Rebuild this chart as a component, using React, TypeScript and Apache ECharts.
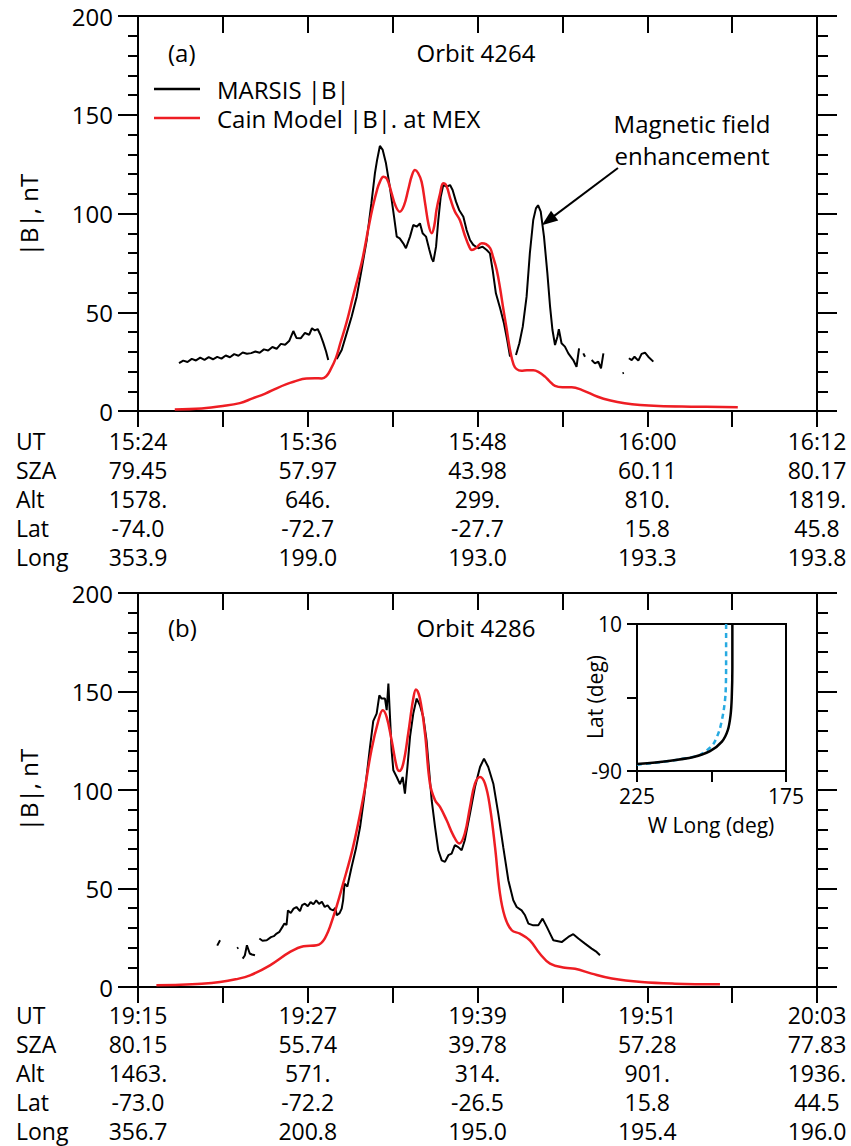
import React, { useEffect, useRef } from 'react';
import * as echarts from 'echarts';

const FONT = "'Open Sans', 'Noto Sans', sans-serif";

// ---- table rows below each panel ----
const rowHeads = ['UT', 'SZA', 'Alt', 'Lat', 'Long'];
const utA = ['15:24', '15:36', '15:48', '16:00', '16:12'];
const szaA = ['79.45', '57.97', '43.98', '60.11', '80.17'];
const altA = ['1578.', '646.', '299.', '810.', '1819.'];
const latA = ['-74.0', '-72.7', '-27.7', '15.8', '45.8'];
const lonA = ['353.9', '199.0', '193.0', '193.3', '193.8'];

const utB = ['19:15', '19:27', '19:39', '19:51', '20:03'];
const szaB = ['80.15', '55.74', '39.78', '57.28', '77.83'];
const altB = ['1463.', '571.', '314.', '901.', '1936.'];
const latB = ['-73.0', '-72.2', '-26.5', '15.8', '44.5'];
const lonB = ['356.7', '200.8', '195.0', '195.4', '196.0'];

// ---- panel (a), orbit 4264: [minutes after 15:24, |B| nT], null = data gap ----
const marsisA: ([number, number] | null)[] = [
  [2.9, 24.2], [3.2, 25.5], [3.5, 24.8], [3.8, 26.4], [4.1, 25.6], [4.4, 27.0], [4.7, 25.9], [5.0, 27.3],
  [5.3, 26.2], [5.6, 27.4], [5.9, 26.5], [6.2, 28.1], [6.5, 27.2], [6.8, 28.8], [7.1, 28.0], [7.4, 29.6],
  [7.7, 29.0], [8.0, 29.3], [8.3, 30.1], [8.6, 29.5], [8.9, 31.2], [9.2, 30.6], [9.5, 32.4], [9.8, 31.5],
  [10.1, 34.0], [10.4, 33.5], [10.7, 35.6], [10.98, 40.5], [11.2, 37.0], [11.5, 36.8], [11.8, 39.5],
  [12.1, 38.6], [12.3, 41.9], [12.5, 40.8], [12.7, 41.5], [12.9, 38.5], [13.1, 34.5], [13.3, 30.0], [13.45, 25.8],
  null,
  [14.05, 26.3], [14.4, 30.9], [14.75, 39.3], [15.1, 47.7], [15.46, 57.9], [15.8, 71.4], [16.17, 86.6],
  [16.5, 105.2], [16.75, 120.4], [16.9, 127.0], [17.1, 134.2], [17.3, 132.2], [17.53, 125.4], [17.8, 113.6],
  [18.1, 98.4], [18.29, 88.3], [18.5, 87.4], [18.75, 84.9], [18.94, 82.4], [19.23, 88.3], [19.46, 94.2],
  [19.7, 93.3], [19.93, 95.0], [20.12, 90.0], [20.36, 88.3], [20.6, 81.5], [20.76, 77.3], [20.88, 75.6],
  [21.07, 83.2], [21.23, 96.7], [21.4, 108.5], [21.58, 114.4], [21.82, 113.6], [22.06, 114.4], [22.24, 111.9],
  [22.48, 106.0], [22.7, 101.8], [23.0, 98.4], [23.23, 91.6], [23.47, 86.6], [23.7, 84.1], [24.06, 82.4],
  [24.36, 83.2], [24.65, 81.5], [24.88, 79.8], [25.07, 71.4], [25.3, 59.6], [25.6, 52.0], [25.87, 44.4],
  [26.1, 35.9], [26.3, 27.5],
  null,
  [26.72, 28.4], [26.96, 34.3], [27.2, 42.7], [27.47, 57.9], [27.7, 79.8], [27.94, 96.7], [28.13, 102.6],
  [28.28, 104.2], [28.47, 100.9], [28.7, 88.3], [28.94, 69.7], [29.13, 52.8], [29.3, 41.0], [29.48, 33.4],
  [29.65, 37.6], [29.75, 41.4], [29.94, 34.3], [30.18, 32.6], [30.42, 29.2], [30.77, 25.8], [31.0, 22.4], [31.18, 31.7],
  null,
  [31.48, 29.2], [31.6, 27.5],
  null,
  [32.07, 25.8], [32.3, 24.1], [32.54, 25.0], [32.73, 21.6], [32.9, 29.2],
  null,
  [34.25, 19.1], [34.35, 19.3],
  null,
  [34.7, 26.7], [34.9, 25.8], [35.1, 27.5], [35.37, 25.5], [35.6, 28.9], [35.84, 29.5], [36.07, 27.5], [36.43, 25.0],
];

const cainA: [number, number][] = [
  [2.6, 0.8], [4.5, 1.3], [6.0, 2.5], [7.2, 4.0], [8.1, 6.4], [9.0, 8.8], [9.8, 11.5], [10.5, 13.6],
  [11.0, 14.8], [11.9, 16.5], [12.5, 16.6], [13.0, 16.5], [13.3, 17.5], [13.6, 20.8], [14.0, 27.0],
  [14.3, 34.3], [14.75, 45.0], [15.2, 57.9], [15.6, 69.0], [15.9, 78.0], [16.3, 93.0], [16.6, 103.4],
  [16.9, 112.0], [17.1, 116.0], [17.35, 118.6], [17.6, 117.5], [17.9, 111.0], [18.2, 104.0], [18.5, 100.9],
  [18.8, 104.0], [19.1, 112.0], [19.35, 119.0], [19.58, 122.0], [19.8, 120.5], [20.05, 116.0], [20.3, 105.0],
  [20.55, 94.0], [20.76, 90.0], [20.95, 94.0], [21.1, 101.8], [21.35, 110.0], [21.58, 115.3], [21.8, 114.0],
  [22.1, 107.0], [22.4, 101.0], [22.75, 96.7], [23.1, 89.0], [23.4, 83.5], [23.6, 81.5], [23.9, 82.5],
  [24.3, 85.0], [24.6, 84.5], [24.9, 82.4], [25.1, 78.0], [25.36, 71.4], [25.6, 62.0], [25.8, 52.8],
  [26.05, 42.0], [26.3, 30.9], [26.55, 23.5], [26.77, 21.2], [27.1, 20.4], [27.5, 20.6], [27.94, 20.6],
  [28.3, 19.8], [28.77, 17.4], [29.1, 15.0], [29.48, 12.7], [30.0, 12.0], [30.66, 12.0], [31.4, 10.6],
  [32.5, 7.2], [33.4, 5.3], [34.4, 3.9], [35.5, 3.0], [36.8, 2.5], [39.1, 2.2], [42.4, 1.9],
];

// ---- panel (b), orbit 4286: [minutes after 19:15, |B| nT] ----
const marsisB: ([number, number] | null)[] = [
  [5.6, 21.0], [5.8, 23.7],
  null,
  [7.0, 19.6], [7.1, 20.0],
  null,
  [7.4, 14.4], [7.55, 16.0], [7.7, 21.2], [7.9, 17.0], [8.05, 16.5], [8.27, 16.1],
  null,
  [8.58, 24.6], [8.8, 23.5], [9.1, 23.7], [9.4, 25.3], [9.6, 25.8], [9.8, 27.1], [10.0, 28.0], [10.2, 30.4],
  [10.35, 32.2], [10.5, 31.5], [10.6, 38.9], [10.8, 37.6], [11.0, 39.8], [11.2, 40.6], [11.45, 38.5],
  [11.6, 41.5], [11.8, 42.3], [12.0, 41.0], [12.2, 43.1], [12.4, 42.0], [12.6, 44.0], [12.8, 42.2],
  [13.0, 43.3], [13.2, 40.6], [13.4, 41.5], [13.6, 39.5], [13.8, 38.9], [13.95, 40.2], [14.05, 36.4],
  [14.25, 37.5], [14.4, 39.8], [14.5, 44.0], [14.6, 52.5], [14.8, 51.0], [15.1, 60.9], [15.4, 70.0],
  [15.7, 81.2], [16.0, 97.0], [16.4, 121.8], [16.63, 135.0], [16.87, 138.8], [17.06, 148.0], [17.22, 146.4],
  [17.46, 146.4], [17.58, 140.5], [17.7, 154.0], [17.93, 120.0], [18.05, 110.0], [18.29, 106.6],
  [18.52, 103.0], [18.71, 106.6], [18.87, 98.2], [19.05, 112.0], [19.23, 127.0], [19.46, 138.8],
  [19.7, 146.4], [19.93, 143.0], [20.17, 137.0], [20.4, 125.0], [20.76, 94.8], [21.0, 81.2], [21.23, 69.4],
  [21.47, 64.3], [21.7, 63.5], [21.94, 66.9], [22.17, 67.7], [22.4, 72.0], [22.64, 71.0], [22.88, 69.4],
  [23.1, 74.5], [23.47, 88.0], [23.82, 101.5], [24.18, 111.7], [24.46, 115.9], [24.76, 111.7], [25.12, 103.2],
  [25.47, 88.0], [25.82, 71.0], [26.18, 54.2], [26.53, 44.0], [26.77, 40.6], [27.12, 38.9], [27.36, 36.4],
  [27.6, 32.2], [27.94, 31.3], [28.3, 31.3], [28.6, 34.7], [28.9, 30.5], [29.13, 27.1], [29.36, 23.7],
  [29.95, 22.8], [30.42, 25.4], [30.77, 26.8], [31.13, 24.6], [31.6, 22.0], [32.07, 19.5], [32.42, 17.8],
  [32.66, 16.1],
];

const cainB: [number, number][] = [
  [1.3, 0.9], [3.0, 1.1], [4.5, 1.6], [5.8, 2.5], [6.9, 3.9], [7.92, 5.9], [9.33, 11.0], [10.75, 17.8],
  [11.7, 20.7], [12.63, 21.2], [13.2, 24.6], [13.8, 35.5], [14.5, 52.5], [15.2, 71.0], [15.93, 96.4],
  [16.5, 120.2], [17.0, 135.4], [17.3, 140.5], [17.58, 137.0], [17.93, 125.2], [18.29, 111.7], [18.47, 109.6],
  [18.75, 113.4], [19.1, 128.6], [19.46, 146.4], [19.65, 151.0], [19.93, 146.4], [20.29, 128.6], [20.64, 103.2],
  [21.0, 94.8], [21.35, 91.4], [21.82, 84.6], [22.29, 77.0], [22.71, 72.8], [23.1, 77.9], [23.47, 91.4],
  [23.82, 103.2], [24.18, 106.6], [24.53, 103.2], [24.88, 91.4], [25.24, 71.0], [25.59, 47.4], [25.94, 35.5],
  [26.42, 28.8], [27.0, 27.1], [27.7, 23.7], [28.4, 17.0], [29.13, 11.9], [30.18, 9.8], [30.9, 9.3],
  [32.07, 6.8], [33.5, 4.3], [35.6, 2.5], [37.96, 1.7], [41.14, 1.4],
];

// ---- inset: [W longitude deg, latitude deg] ----
const insetBlack: [number, number][] = [
  [225, -85.3], [215, -83.3], [206, -80.5], [200.5, -76.5], [196.5, -70], [194.5, -62], [193.6, -52],
  [193.2, -40], [193, -20], [193, 10],
];
const insetCyan: [number, number][] = [
  [225, -85.8], [217.2, -84], [210.5, -82], [203.8, -79], [199.5, -72], [197.3, -62], [196, -50],
  [195.3, -38], [195.1, -20], [195.1, 10],
];

// annotation arrow (data coords of panel a)
const arrowFrom: [number, number] = [33.93, 123];
const arrowTo: [number, number] = [29.0, 96.5];

const BLACK = '#000';
const RED = '#ee1d23';
const CYAN = '#27aae1';

const gap = (arr: ([number, number] | null)[]) => arr.map((p) => (p === null ? ['-', '-'] : p));

const lineStyle = { color: BLACK, width: 2 };
const axisLine = { show: true, onZero: false, lineStyle };

function tableFormatter(cols: string[][]) {
  return (v: number) => {
    if (Math.abs(v % 12) > 1e-6) return '';
    const i = Math.round(v / 12);
    return cols.map((c) => c[i]).join('\n');
  };
}

function xAxes(gridIndex: number, cols: string[][], margin: number) {
  return [
    {
      type: 'value', gridIndex, position: 'bottom', min: 0, max: 48, interval: 6,
      axisLine, axisTick: { show: true, inside: false, length: 16, lineStyle },
      axisLabel: {
        show: true, margin, fontSize: 23, lineHeight: 29, fontFamily: FONT, color: BLACK,
        formatter: tableFormatter(cols), hideOverlap: false,
      },
      splitLine: { show: false },
    },
    {
      type: 'value', gridIndex, position: 'top', min: 0, max: 48, interval: 6,
      axisLine, axisTick: { show: true, inside: true, length: 17, lineStyle },
      axisLabel: { show: false }, splitLine: { show: false },
    },
  ];
}

function yAxes(gridIndex: number) {
  return [
    {
      type: 'value', gridIndex, position: 'left', min: 0, max: 200, interval: 50,
      axisLine, axisTick: { show: true, inside: false, length: 20, lineStyle },
      minorTick: { show: true, splitNumber: 5, length: 10, lineStyle },
      axisLabel: { show: true, margin: 25, fontSize: 24, fontFamily: FONT, color: BLACK },
      splitLine: { show: false }, minorSplitLine: { show: false },
    },
    {
      type: 'value', gridIndex, position: 'right', min: 0, max: 200, interval: 50,
      axisLine, axisTick: { show: true, inside: false, length: 20, lineStyle },
      minorTick: { show: true, splitNumber: 5, length: 11, lineStyle },
      axisLabel: { show: false },
      splitLine: { show: false }, minorSplitLine: { show: false },
    },
  ];
}

const txt = (text: string, x: number, y: number, size: number, align = 'left', vAlign = 'middle', extra: any = {}) => ({
  type: 'text', x, y, z: 100, ...extra,
  style: {
    text, fontSize: size, fontFamily: FONT, fill: BLACK,
    align, verticalAlign: vAlign, textAlign: align, textVerticalAlign: vAlign,
    ...(extra.lineHeight ? { lineHeight: extra.lineHeight } : {}),
  },
});

function buildOption() {
  return {
    animation: false,
    backgroundColor: '#fff',
    grid: [
      { left: 138, top: 16, width: 679, height: 395 },
      { left: 138, top: 593, width: 679, height: 394 },
      { left: 637, top: 624, width: 149, height: 147, show: true, borderColor: BLACK, borderWidth: 2, backgroundColor: 'transparent' },
    ],
    xAxis: [
      ...xAxes(0, [utA, szaA, altA, latA, lonA], 15),
      ...xAxes(1, [utB, szaB, altB, latB, lonB], 13),
      {
        type: 'value', gridIndex: 2, min: 175, max: 225, interval: 25, inverse: true,
        axisLine, axisTick: { show: true, inside: false, length: 11, lineStyle },
        axisLabel: {
          show: true, margin: 13, fontSize: 21, lineHeight: 24, fontFamily: FONT, color: BLACK,
          formatter: (v: number) => (v === 200 ? '' : String(v)),
        },
        splitLine: { show: false },
      },
    ],
    yAxis: [
      ...yAxes(0),
      ...yAxes(1),
      {
        type: 'value', gridIndex: 2, min: -90, max: 10, interval: 50,
        axisLine, axisTick: { show: true, inside: false, length: 10, lineStyle },
        axisLabel: {
          show: true, margin: 15, fontSize: 21, fontFamily: FONT, color: BLACK,
          formatter: (v: number) => (v === -40 ? '' : String(v)),
        },
        splitLine: { show: false },
      },
    ],
    legend: {
      data: ['MARSIS |B|', 'Cain Model |B|. at MEX'],
      orient: 'vertical', left: 154, top: 77, padding: 0,
      icon: 'rect', itemWidth: 46, itemHeight: 2.4, itemGap: 5, selectedMode: false,
      formatter: (n: string) => '{s| }' + n,
      textStyle: { fontSize: 24, lineHeight: 24, fontFamily: FONT, color: BLACK, rich: { s: { width: 12 } } },
    },
    series: [
      {
        name: 'MARSIS |B|', type: 'line', xAxisIndex: 0, yAxisIndex: 0, data: gap(marsisA),
        symbol: 'none', connectNulls: false, lineStyle: { color: BLACK, width: 2 }, itemStyle: { color: BLACK },
        markLine: {
          silent: true, symbol: ['none', 'triangle'], symbolSize: [12, 16],
          lineStyle: { color: BLACK, width: 2, type: 'solid' }, label: { show: false },
          data: [[{ coord: arrowFrom }, { coord: arrowTo }]],
        },
      },
      {
        name: 'Cain Model |B|. at MEX', type: 'line', xAxisIndex: 0, yAxisIndex: 0, data: cainA,
        symbol: 'none', smooth: 0.4, lineStyle: { color: RED, width: 2.5 }, itemStyle: { color: RED },
      },
      {
        name: 'MARSIS |B| 4286', type: 'line', xAxisIndex: 2, yAxisIndex: 2, data: gap(marsisB),
        symbol: 'none', connectNulls: false, lineStyle: { color: BLACK, width: 2 }, itemStyle: { color: BLACK },
      },
      {
        name: 'Cain Model 4286', type: 'line', xAxisIndex: 2, yAxisIndex: 2, data: cainB,
        symbol: 'none', smooth: 0.4, lineStyle: { color: RED, width: 2.5 }, itemStyle: { color: RED },
      },
      {
        name: 'Inset cyan', type: 'line', xAxisIndex: 4, yAxisIndex: 4, data: insetCyan,
        symbol: 'none', smooth: 0.25, lineStyle: { color: CYAN, width: 2.5, type: [5, 4] }, itemStyle: { color: CYAN },
      },
      {
        name: 'Inset black', type: 'line', xAxisIndex: 4, yAxisIndex: 4, data: insetBlack,
        symbol: 'none', smooth: 0.25, lineStyle: { color: BLACK, width: 2.5 }, itemStyle: { color: BLACK },
      },
    ],
    graphic: [
      txt('(a)', 168, 52, 24),
      txt('Orbit 4264', 476, 52, 24, 'center'),
      txt('Magnetic field\nenhancement', 692, 107, 24, 'center', 'top', { lineHeight: 32 }),
      txt('|B|, nT', 28, 215, 24, 'center', 'middle', { rotation: Math.PI / 2 }),
      txt(rowHeads.join('\n'), 16, 426, 23, 'left', 'top', { lineHeight: 29 }),
      txt('(b)', 168, 627, 24),
      txt('Orbit 4286', 476, 627, 24, 'center'),
      txt('|B|, nT', 28, 790, 24, 'center', 'middle', { rotation: Math.PI / 2 }),
      txt(rowHeads.join('\n'), 16, 1000, 23, 'left', 'top', { lineHeight: 29 }),
      txt('Lat (deg)', 595, 697, 21, 'center', 'middle', { rotation: Math.PI / 2 }),
      txt('W Long (deg)', 711, 825, 21, 'center', 'middle'),
    ],
  };
}

export default function App() {
  const ref = useRef<HTMLDivElement>(null);
  useEffect(() => {
    if (!ref.current) return;
    const chart = echarts.init(ref.current, null, { renderer: 'svg' });
    chart.setOption(buildOption() as any);
    return () => chart.dispose();
  }, []);
  return (
    <div
      ref={ref}
      style={{ position: 'absolute', left: 0, top: 0, width: 851, height: 1146, background: '#fff' }}
    />
  );
}
